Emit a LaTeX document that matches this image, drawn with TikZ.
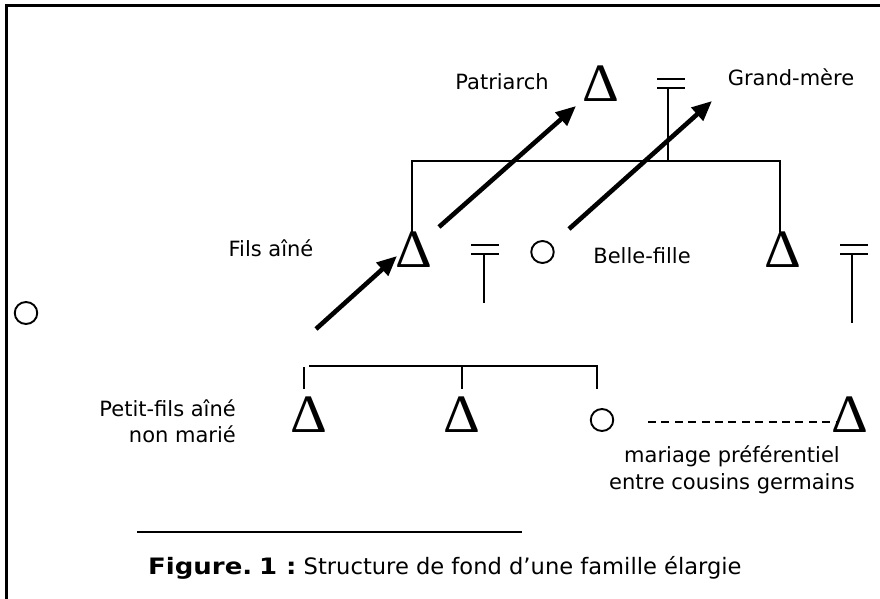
\documentclass[tikz,border=0pt]{standalone}
\usepackage{fontspec}
\usepackage{graphicx}
\setmainfont{DejaVu Sans}
\newfontfamily\tnr{Liberation Serif}
\usetikzlibrary{arrows.meta,shapes.geometric}
\begin{document}
\begin{tikzpicture}[x=1bp,y=-1bp,
  lbl/.style={inner sep=0pt,font=\fontsize{21bp}{26.5bp}\selectfont},
  male/.style={inner sep=0pt,anchor=base,font=\tnr\fontsize{54bp}{54bp}\selectfont},
  female/.style={draw,ellipse,inner sep=0pt,minimum width=22.5bp,minimum height=22bp,line width=1.9bp},
  thin/.style={line width=2.1bp},
  frame/.style={line width=3bp},
  bigarrow/.style={line width=4.6bp,-{Triangle[length=20bp,width=17bp]}},
  marriage/.style={line width=2.1bp}]
\useasboundingbox (0,0) rectangle (880,599);
% frame
\coordinate (fTL) at (6,6);
\coordinate (fTR) at (881,6);
\coordinate (fBL) at (6,600);
\draw[frame] (fTR) -- (fTL) -- (fBL);

% labels
\node[lbl] (patL) at (502,82) {Patriarch};
\node[lbl] (gmL) at (791,77) {Grand-mère};
\node[lbl] (filsL) at (271,248) {Fils aîné};
\node[lbl] (bfL) at (642,256) {Belle-fille};
\node[lbl,align=right,anchor=east] (pfL) at (236,421) {Petit-fils aîné\\non marié};
\node[lbl,align=center] (mpL) at (732,470) {mariage préférentiel\\entre cousins germains};
\node[lbl,anchor=west,font=\fontsize{22.6bp}{27bp}\selectfont] (cap) at (148,568)
  {\scalebox{1.15}[1]{\bfseries Figure.\kern-2bp\ 1 :} Structure de fond d’une famille élargie};

% males
\node[male] (pat) at (600.5,102) {\scalebox{1.06}[1]{Δ}};
\node[male] (fils) at (413.5,267) {\scalebox{1.06}[1]{Δ}};
\node[male] (son2) at (782.5,267) {\scalebox{1.06}[1]{Δ}};
\node[male] (pf1) at (309,432) {\scalebox{1.06}[1]{Δ}};
\node[male] (pf2) at (462,432) {\scalebox{1.06}[1]{Δ}};
\node[male] (cous) at (849.5,432) {\scalebox{1.06}[1]{Δ}};

% females
\node[female] (fleft) at (26,313) {};
\node[female] (bf) at (542.5,252) {};
\node[female] (sis) at (602,420) {};

% top marriage
\coordinate (m1a) at (657,79); \coordinate (m1b) at (685,79);
\coordinate (m1c) at (657,88); \coordinate (m1d) at (685,88);
\coordinate (m1top) at (668,88); \coordinate (m1bot) at (668,161);
\draw[marriage] (m1a) -- (m1b); \draw[marriage] (m1c) -- (m1d);
\draw[thin] (m1top) -- (m1bot);
\coordinate (barL) at (412,161); \coordinate (barR) at (780,161);
\coordinate (filsTop) at (412,232); \coordinate (son2Top) at (780,232);
\draw[thin] (filsTop) -- (barL) -- (barR) -- (son2Top);

% fils marriage
\coordinate (m2a) at (471,245); \coordinate (m2b) at (499,245);
\coordinate (m2c) at (471,254); \coordinate (m2d) at (499,254);
\coordinate (m2bot) at (484,303); \coordinate (m2top) at (484,254);
\draw[marriage] (m2a) -- (m2b); \draw[marriage] (m2c) -- (m2d);
\draw[thin] (m2top) -- (m2bot);

% right marriage
\coordinate (m3a) at (840,245); \coordinate (m3b) at (868,245);
\coordinate (m3c) at (840,254); \coordinate (m3d) at (868,254);
\coordinate (m3bot) at (852,323); \coordinate (m3top) at (852,254);
\draw[marriage] (m3a) -- (m3b); \draw[marriage] (m3c) -- (m3d);
\draw[thin] (m3top) -- (m3bot);

% sibling bar
\coordinate (sbL) at (309,366); \coordinate (sbR) at (597,366);
\coordinate (sbM) at (462,366);
\coordinate (t1a) at (304,367); \coordinate (t1b) at (304,389);
\coordinate (t2b) at (462,389); \coordinate (t3b) at (597,389);
\draw[thin] (sbL) -- (sbR) -- (t3b);
\draw[thin] (sbM) -- (t2b);
\draw[thin] (t1a) -- (t1b);

% dashed preferential marriage
\coordinate (dA) at (648,422); \coordinate (dB) at (836,422);
\draw[thin,dash pattern=on 8bp off 5.4bp] (dA) -- (dB);

% bottom rule
\coordinate (rA) at (137,532); \coordinate (rB) at (522,532);
\draw[thin] (rA) -- (rB);

% arrows
\coordinate (a1s) at (439,227); \coordinate (a1e) at (576,106);
\coordinate (a2s) at (569,229); \coordinate (a2e) at (712,101);
\coordinate (a3s) at (316,329); \coordinate (a3e) at (397,256);
\draw[bigarrow] (a1s) -- (a1e);
\draw[bigarrow] (a2s) -- (a2e);
\draw[bigarrow] (a3s) -- (a3e);
\end{tikzpicture}
\end{document}
